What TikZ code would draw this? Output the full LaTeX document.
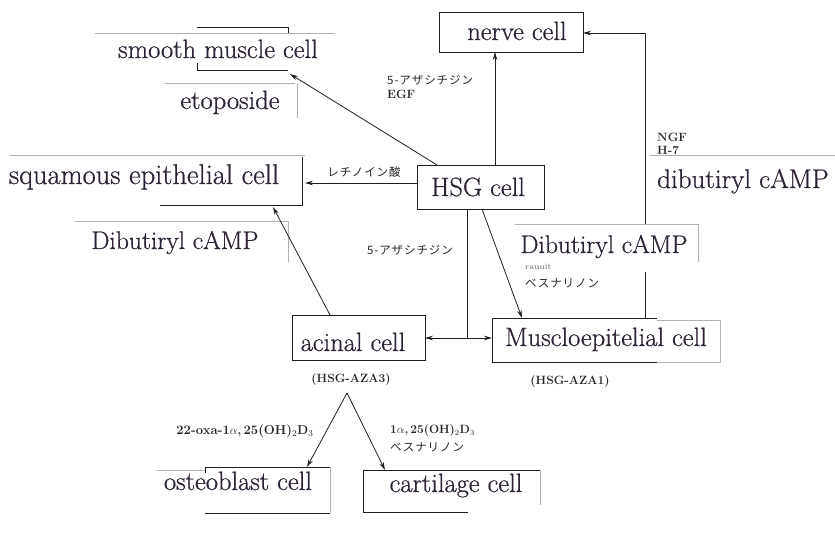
\documentclass[tikz,border=0pt]{standalone}
\usepackage{fontspec}
\newfontfamily\jp{Noto Sans CJK JP}[LetterSpace=8]
\newfontfamily\bigf{Latin Modern Roman}[FakeBold=0.7]
\usetikzlibrary{arrows.meta}
\definecolor{ink}{HTML}{2E2236}
\definecolor{ln}{HTML}{1E1E1E}
\begin{document}
\begin{tikzpicture}[x=1pt,y=-1pt,
  big/.style={inner sep=0pt, text=ink, font=\bigf\fontsize{26.5}{30}\selectfont, text height=17pt, text depth=5pt},
  cellbox/.style={draw=ln, line width=0.9pt, inner sep=0pt},
  frag/.style={draw=ln, line width=0.9pt},
  strip/.style={draw=gray!60, line width=0.6pt},
  conn/.style={draw=ln, line width=0.8pt},
  arr/.style={conn, -{Stealth[length=8pt,width=4.5pt]}},
  jl/.style={inner sep=0pt, font=\jp\fontsize{11.5}{13}\selectfont, text=black!85},
  sl/.style={inner sep=0pt, font=\fontsize{12}{13}\selectfont\bfseries, text=black!85}]
\useasboundingbox (0,0) rectangle (835,534);

% ---------- boxes ----------
\node[cellbox, minimum width=144pt, minimum height=40pt] (nerve) at (511,32) {};
\node[cellbox, minimum width=127pt, minimum height=44pt] (hsg) at (481,187) {};
\node[cellbox, minimum width=133pt, minimum height=45pt] (acinal) at (358.5,337.5) {};

% ---------- named coordinates ----------
\coordinate (hsgN) at (495,165);
\coordinate (nerveS) at (495,52);
\coordinate (nerveE) at (583,33);
\coordinate (hsgNW) at (437,165);
\coordinate (smoothE) at (290,74);
\coordinate (hsgW) at (418,183);
\coordinate (squamR) at (305,183);
\coordinate (hsgS) at (467,209);
\coordinate (junc) at (467,338);
\coordinate (acinalE) at (425,338);
\coordinate (muscL) at (492,338);
\coordinate (hsgS2) at (482,209);
\coordinate (muscT1) at (522,318);
\coordinate (muscT2) at (645,318);
\coordinate (acinalN) at (330,315);
\coordinate (squamB) at (273,207);
\coordinate (apex) at (347,393);
\coordinate (osteoE) at (307,467);
\coordinate (cartE) at (385,470);

% ---------- box fragments ----------
% smooth muscle cell
\draw[strip] (95,33) -- (335,33);
\draw[frag] (197,27) -- (288,27) -- (288,33);
\draw[frag] (197,63) -- (197,70) -- (288,70);
% etoposide
\draw[strip] (165,83) -- (295,83);
\draw[strip] (297,83) -- (297,118);
% squamous epithelial cell
\draw[strip] (10,155) -- (305,155);
\draw[frag] (302,157) -- (302,205) -- (160,205);
% Dibutiryl (left)
\draw[strip] (75,221) -- (288,221);
\draw[strip] (288,221) -- (288,262);
% dibutiryl (right)
\draw[strip] (650,155) -- (835,155);
% Muscloepitelial cell
\draw[frag] (657,318) -- (492,318) -- (492,362) -- (657,362);
\draw[strip] (657,320) -- (720,320) -- (720,362) -- (657,362);
% osteoblast cell
\draw[strip] (157,470) -- (205,470);
\draw[frag] (205,473) -- (205,467) -- (330,467);
\draw[frag] (205,513) -- (330,513);
\draw[strip] (330,467) -- (330,513);
% cartilage cell
\draw[frag] (540,470) -- (363,470) -- (363,512) -- (468,512);
\draw[strip] (540,470) -- (540,505);

% ---------- connectors ----------
\draw[arr] (hsgN) -- (nerveS);
\draw[arr] (hsgNW) -- (smoothE);
\draw[arr] (hsgW) -- (squamR);
\draw[conn] (hsgS) -- (junc);
\draw[arr] (junc) -- (acinalE);
\draw[arr] (junc) -- (muscL);
\draw[arr] (hsgS2) -- (muscT1);
\draw[arr] (muscT2) |- (nerveE);
\draw[arr] (acinalN) -- (squamB);
\draw[arr] (apex) -- (osteoE);
\draw[arr] (apex) -- (cartE);

% pasted strip over the right line
\fill[white] (515,224) rectangle (698,272);
\draw[strip] (515,224) -- (698,224) -- (698,262);

% ---------- big labels ----------
\node[big] (nerveT) at (517,34) {nerve cell};
\node[big] (smoothT) at (218,52) {smooth muscle cell};
\node[big] (etoT) at (230,103) {etoposide};
\node[big, font=\bigf\fontsize{28.5}{32}\selectfont] (squamT) at (144,178) {squamous epithelial cell};
\node[big] (hsgT) at (478,190) {HSG cell};
\node[big, font=\bigf\fontsize{25.5}{30}\selectfont] (dibLT) at (175,243) {Dibutiryl cAMP};
\node[big, font=\bigf\fontsize{25.5}{30}\selectfont] (dibMT) at (604,247) {Dibutiryl cAMP};
\node[big, font=\bigf\fontsize{27}{30}\selectfont] (dibRT) at (743,182) {dibutiryl cAMP};
\node[big] (acinalT) at (353,345) {acinal cell};
\node[big] (muscT) at (606,340) {Muscloepitelial cell};
\node[big] (osteoT) at (238,484) {osteoblast cell};
\node[big] (cartT) at (456,486) {cartilage cell};

% ---------- small labels ----------
\node[jl, anchor=west] (l1) at (387,80) {5-アザシチジン};
\node[sl, anchor=west] (l1b) at (387,94) {EGF};
\node[jl] (l2) at (364,172) {レチノイン酸};
\node[jl] (l3) at (410,250) {5-アザシチジン};
\node[sl, anchor=west, text=black!45, font=\fontsize{8}{9}\selectfont\bfseries] (smudge) at (525,267) {rauuit};
\node[jl, anchor=west] (l4) at (525,283) {ベスナリノン};
\node[sl, anchor=west] (ngf) at (657,137) {NGF};
\node[sl, anchor=west] (h7) at (657,150) {H-7};
\node[sl] (aza3) at (351,380) {(HSG-AZA3)};
\node[sl] (aza1) at (570,382) {(HSG-AZA1)};
\node[sl, font=\fontsize{13}{14}\selectfont\bfseries] (d1) at (245,431) {22-oxa-1$\alpha$,\,25(OH)$_2$D$_3$};
\node[sl, anchor=west] (d2) at (390,431) {1$\alpha$,\,25(OH)$_2$D$_3$};
\node[jl, anchor=west] (d3) at (390,447) {ベスナリノン};
\end{tikzpicture}
\end{document}
